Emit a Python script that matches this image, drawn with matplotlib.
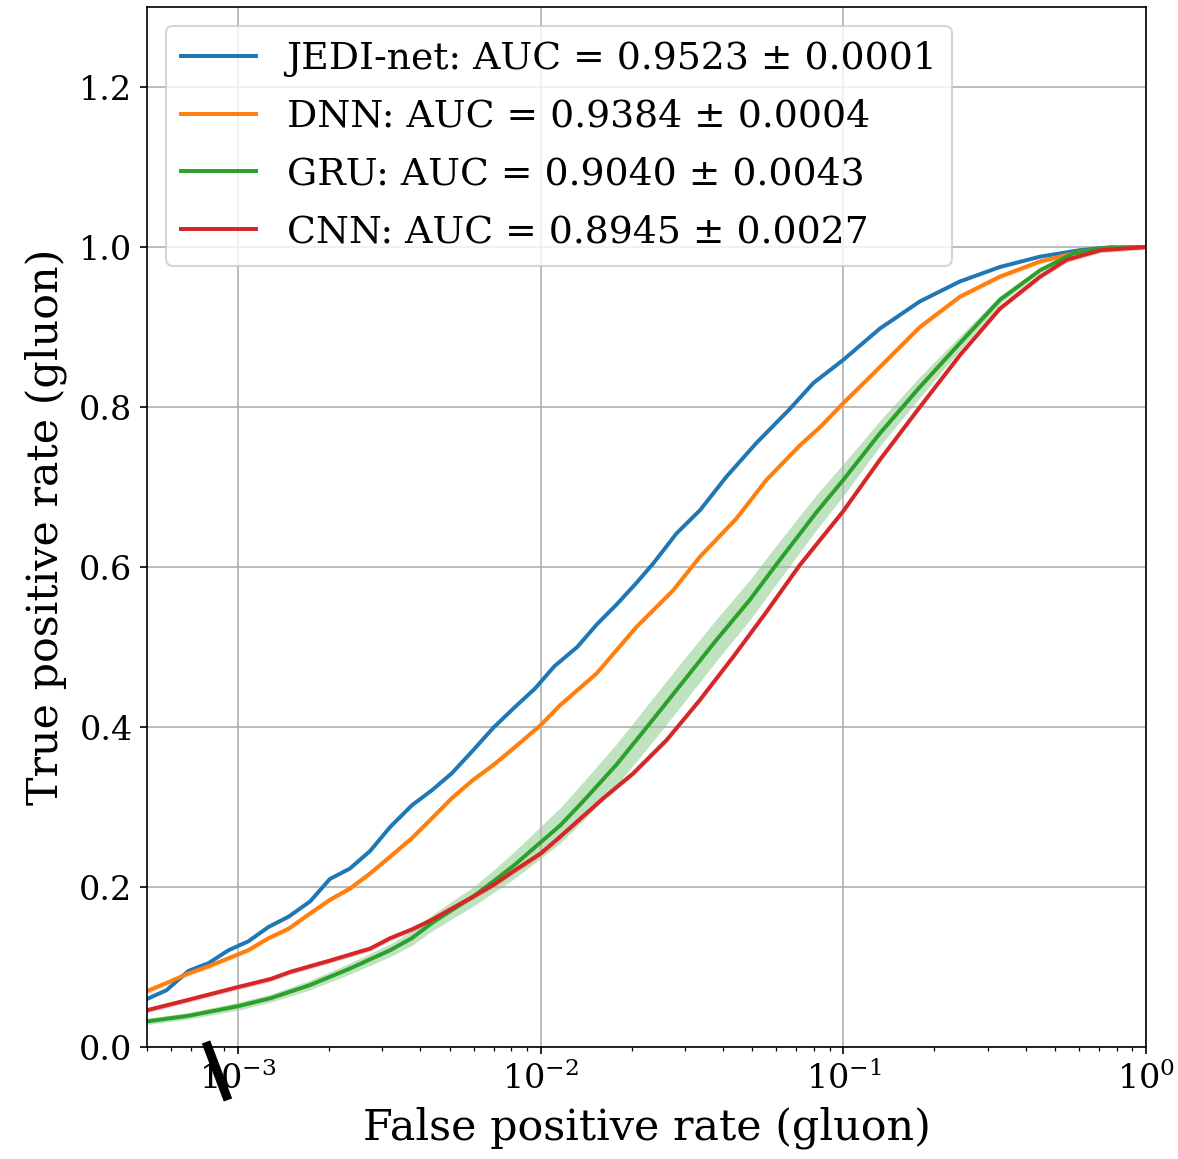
import numpy as np
import matplotlib
matplotlib.use("Agg")
import matplotlib.pyplot as plt
from matplotlib.lines import Line2D

plt.rcParams['font.family'] = ['DejaVu Serif']
plt.rcParams['mathtext.fontset'] = 'dejavuserif'

# ---- data ----
labels = ["JEDI-net: AUC = 0.9523 ± 0.0001",
          "DNN: AUC = 0.9384 ± 0.0004",
          "GRU: AUC = 0.9040 ± 0.0043",
          "CNN: AUC = 0.8945 ± 0.0027"]
colors = ["#1f77b4", "#ff7f0e", "#2ca02c", "#d62728"]

jedi_fpr = [5.0e-4, 5.8e-4, 6.85e-4, 8.0e-4, 9.3e-4, 1.08e-3, 1.26e-3, 1.47e-3, 1.73e-3,
            2.01e-3, 2.34e-3, 2.73e-3, 3.18e-3, 3.75e-3, 4.37e-3, 5.08e-3, 5.98e-3, 6.97e-3,
            8.22e-3, 9.57e-3, 1.11e-2, 1.32e-2, 1.53e-2, 1.78e-2, 2.07e-2, 2.36e-2, 2.81e-2,
            3.36e-2, 4.11e-2, 5.16e-2, 6.67e-2, 7.96e-2, 0.1, 0.132, 0.179, 0.243, 0.329,
            0.447, 0.605, 0.776, 1.0]
jedi_tpr = [0.060, 0.071, 0.095, 0.105, 0.121, 0.132, 0.150, 0.163, 0.182,
            0.210, 0.223, 0.245, 0.275, 0.302, 0.321, 0.342, 0.371, 0.399,
            0.425, 0.448, 0.476, 0.500, 0.528, 0.553, 0.580, 0.605, 0.642,
            0.671, 0.713, 0.755, 0.798, 0.830, 0.859, 0.898, 0.932, 0.957, 0.975,
            0.988, 0.996, 1.0, 1.0]
jedi_std = 0.001

dnn_fpr = [5.0e-4, 5.8e-4, 6.85e-4, 8.0e-4, 9.3e-4, 1.08e-3, 1.26e-3, 1.47e-3, 1.73e-3,
           2.01e-3, 2.34e-3, 2.73e-3, 3.18e-3, 3.75e-3, 4.37e-3, 5.08e-3, 5.98e-3, 6.97e-3,
           8.22e-3, 1.0e-2, 1.16e-2, 1.53e-2, 2.07e-2, 2.74e-2, 3.36e-2, 4.44e-2, 5.57e-2,
           7.18e-2, 8.38e-2, 0.1, 0.132, 0.179, 0.243, 0.329, 0.447, 0.605, 0.80, 1.0]
dnn_tpr = [0.070, 0.080, 0.092, 0.101, 0.111, 0.121, 0.136, 0.148, 0.167,
           0.184, 0.198, 0.217, 0.238, 0.261, 0.286, 0.311, 0.334, 0.3525,
           0.375, 0.4025, 0.4275, 0.467, 0.525, 0.571, 0.613, 0.661, 0.709,
           0.752, 0.775, 0.805, 0.850, 0.900, 0.938, 0.963, 0.982, 0.994, 1.0, 1.0]
dnn_std = 0.003

gru_fpr = [5.0e-4, 6.85e-4, 1.0e-3, 1.28e-3, 1.73e-3, 2.34e-3, 3.18e-3, 3.75e-3, 4.37e-3,
           5.08e-3, 5.98e-3, 6.97e-3, 8.22e-3, 1.0e-2, 1.16e-2, 1.38e-2, 1.78e-2, 2.30e-2,
           2.96e-2, 3.81e-2, 4.91e-2, 6.03e-2, 8.17e-2, 0.1, 0.132, 0.179, 0.243, 0.329,
           0.447, 0.575, 0.708, 1.0]
gru_tpr = [0.032, 0.039, 0.051, 0.061, 0.0775, 0.098, 0.121, 0.136, 0.155,
           0.171, 0.188, 0.207, 0.228, 0.256, 0.277, 0.307, 0.353, 0.405,
           0.457, 0.509, 0.559, 0.604, 0.669, 0.709, 0.767, 0.825, 0.880, 0.934,
           0.971, 0.992, 0.998, 1.0]
gru_std = [0.004, 0.004, 0.005, 0.005, 0.006, 0.007, 0.008, 0.009, 0.010,
           0.011, 0.012, 0.014, 0.017, 0.020, 0.022, 0.024, 0.026, 0.027,
           0.027, 0.026, 0.025, 0.024, 0.022, 0.020, 0.016, 0.013, 0.009, 0.005,
           0.003, 0.001, 0.0005, 0.0]

cnn_fpr = [5.0e-4, 6.85e-4, 1.0e-3, 1.28e-3, 1.49e-3, 2.01e-3, 2.73e-3, 3.18e-3, 3.75e-3,
           4.37e-3, 5.08e-3, 5.98e-3, 6.97e-3, 8.22e-3, 1.0e-2, 1.16e-2, 1.61e-2, 2.02e-2,
           2.61e-2, 3.36e-2, 4.33e-2, 5.57e-2, 7.18e-2, 0.1, 0.132, 0.179, 0.243, 0.329,
           0.447, 0.547, 0.708, 1.0]
cnn_tpr = [0.046, 0.059, 0.075, 0.085, 0.094, 0.108, 0.123, 0.136, 0.147,
           0.159, 0.173, 0.188, 0.2025, 0.221, 0.242, 0.263, 0.311, 0.342,
           0.384, 0.434, 0.488, 0.544, 0.6025, 0.670, 0.734, 0.800, 0.865, 0.923,
           0.963, 0.984, 0.996, 1.0]
cnn_std = 0.003

series = [(jedi_fpr, jedi_tpr, jedi_std),
          (dnn_fpr, dnn_tpr, dnn_std),
          (gru_fpr, gru_tpr, gru_std),
          (cnn_fpr, cnn_tpr, cnn_std)]

# ---- figure ----
fig = plt.figure(figsize=(1178 / 150, 1159 / 150), dpi=150)
ax = fig.add_axes([147 / 1178, 112 / 1159, (1146 - 147) / 1178, (1152 - 112) / 1159])

for (fpr, tpr, std), lab, col in zip(series, labels, colors):
    fpr = np.asarray(fpr)
    tpr = np.asarray(tpr)
    s = np.asarray(std) * np.ones_like(tpr)
    ax.plot(fpr, tpr, color=col, lw=1.9, label=lab)
    ax.fill_between(fpr, tpr - s, np.minimum(tpr + s, 1.0), color=col, alpha=0.3, lw=0)

ax.set_xscale('log')
ax.set_xlim(5e-4, 1)
ax.set_ylim(0, 1.3)
ax.set_yticks([0.0, 0.2, 0.4, 0.6, 0.8, 1.0, 1.2])
ax.grid(True, which='major')
ax.tick_params(labelsize=16)
ax.set_xlabel("False positive rate (gluon)", fontsize=20.6, labelpad=5)
ax.set_ylabel("True positive rate (gluon)", fontsize=20.6, labelpad=6)
ax.legend(loc='upper left', fontsize=18.1, handlelength=2.0, labelspacing=0.58)

# stray black stroke present in the reference image
fig.add_artist(Line2D([206 / 1178, 228 / 1178], [1 - 1042 / 1159, 1 - 1100 / 1159],
                      transform=fig.transFigure, color='black', lw=4.3,
                      solid_capstyle='butt'))

fig.savefig("out.png", dpi=150)
